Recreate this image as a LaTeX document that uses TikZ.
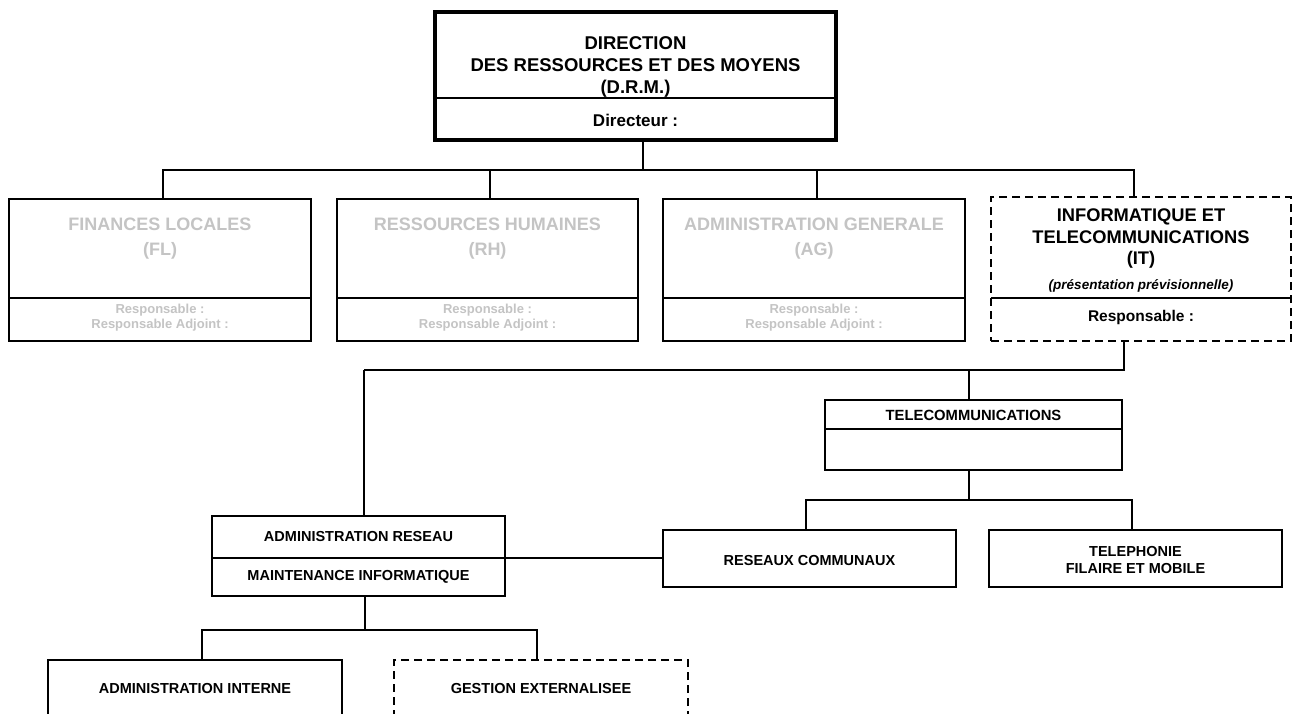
\documentclass[tikz,border=0pt]{standalone}
\usepackage{fontspec}
\setmainfont{Liberation Sans}
\definecolor{lightgr}{RGB}{196,196,196}
\begin{document}
\begin{tikzpicture}[x=1pt,y=-1pt,
  box/.style={draw, line width=2pt, rectangle, inner sep=0pt, outer sep=0pt, anchor=north west},
  thickbox/.style={box, line width=4pt},
  dashbox/.style={box, dash pattern=on 8pt off 5pt},
  link/.style={draw, line width=2pt},
  divider/.style={draw, line width=2pt},
  txt/.style={inner sep=0pt, align=center, font=\bfseries\fontsize{14.5}{17}\selectfont},
  bigtxt/.style={txt, font=\bfseries\fontsize{18.5}{22}\selectfont},
  graytxt/.style={txt, text=lightgr, font=\bfseries\fontsize{18}{25}\selectfont},
  graysmall/.style={txt, text=lightgr, font=\bfseries\fontsize{13}{15}\selectfont}
]
\clip (0,0) rectangle (1298,713);
\fill[white] (0,0) rectangle (1298,713);

% ---- top box
\node[thickbox, minimum width=401, minimum height=128] (drm) at (435,12) {};
\draw[line width=2pt] (drm.west |- 0,98) -- (drm.east |- 0,98);
\node[bigtxt] (drmt) at (635.5,67) {DIRECTION\\DES RESSOURCES ET DES MOYENS\\(D.R.M.)};
\node[txt, font=\bfseries\fontsize{17}{20}\selectfont] (drmd) at (635.5,120) {Directeur :};

% ---- second level
\node[box, minimum width=302, minimum height=142] (fl) at (9,199) {};
\draw[divider] (fl.west |- 0,298) -- (fl.east |- 0,298);
\node[graytxt] (flt) at (160,238.5) {FINANCES LOCALES\\(FL)};
\node[graysmall] (flr) at (160,317.5) {Responsable :\\Responsable Adjoint :};

\node[box, minimum width=301, minimum height=142] (rh) at (337,199) {};
\draw[divider] (rh.west |- 0,298) -- (rh.east |- 0,298);
\node[graytxt] (rht) at (487.5,238.5) {RESSOURCES HUMAINES\\(RH)};
\node[graysmall] (rhr) at (487.5,317.5) {Responsable :\\Responsable Adjoint :};

\node[box, minimum width=302, minimum height=142] (ag) at (663,199) {};
\draw[divider] (ag.west |- 0,298) -- (ag.east |- 0,298);
\node[graytxt] (agt) at (814,238.5) {ADMINISTRATION GENERALE\\(AG)};
\node[graysmall] (agr) at (814,317.5) {Responsable :\\Responsable Adjoint :};

\node[dashbox, minimum width=300, minimum height=144] (it) at (991,197) {};
\draw[divider] (it.west |- 0,298) -- (it.east |- 0,298);
\node[bigtxt, font=\bfseries\fontsize{18.3}{21.5}\selectfont] (itt) at (1141,239) {INFORMATIQUE ET\\TELECOMMUNICATIONS\\(IT)};
\node[txt, font=\bfseries\itshape\fontsize{13.5}{16}\selectfont] (itp) at (1141,286) {(présentation prévisionnelle)};
\node[txt, font=\bfseries\fontsize{15.5}{18}\selectfont] (itr) at (1141,317) {Responsable :};

% ---- third level
\node[box, minimum width=297, minimum height=70] (tc) at (825,400) {};
\draw[divider] (tc.west |- 0,429) -- (tc.east |- 0,429);
\node[txt, font=\bfseries\fontsize{14.8}{17}\selectfont] (tct) at (973.5,415) {TELECOMMUNICATIONS};

\node[box, minimum width=293, minimum height=80] (adm) at (212,516) {};
\draw[divider] (adm.west |- 0,558) -- (adm.east |- 0,558);
\node[txt] (adm1) at (358.5,536) {ADMINISTRATION RESEAU};
\node[txt] (adm2) at (358.5,577) {MAINTENANCE INFORMATIQUE};

\node[box, minimum width=293, minimum height=57] (res) at (663,530) {};
\node[txt] (rest) at (809.5,560) {RESEAUX COMMUNAUX};

\node[box, minimum width=293, minimum height=57] (tel) at (989,530) {};
\node[txt] (telt) at (1135.5,559.5) {TELEPHONIE\\FILAIRE ET MOBILE};

\node[box, minimum width=294, minimum height=90] (ai) at (48,660) {};
\node[txt] (ait) at (195,688) {ADMINISTRATION INTERNE};

\node[dashbox, minimum width=294, minimum height=90] (ge) at (394,660) {};
\node[txt] (get) at (541,688) {GESTION EXTERNALISEE};

% ---- connectors
\coordinate (b1) at (643,170);
\coordinate (b2) at (364,370);
\coordinate (b3) at (969,500);
\coordinate (b4) at (365,630);

\draw[link] (b1 |- drm.south) -- (b1);
\draw[link] ([xshift=3]fl.north) |- (b1);
\draw[link] ([xshift=2.5]rh.north) |- (b1);
\draw[link] ([xshift=3]ag.north) |- (b1);
\draw[link] ([xshift=-7]it.north) |- (b1);

\draw[link] ([xshift=-17]it.south) |- (b2);
\draw[link] (b2) -- (b2 |- adm.north);
\draw[link] ([xshift=-4.5]tc.north) |- (b2);

\draw[link] (b3 |- tc.south) -- (b3);
\draw[link] ([xshift=-3.5]res.north) |- (b3);
\draw[link] ([xshift=-3.5]tel.north) |- (b3);

\draw[link] (res.west |- 0,558) -- (adm.east |- 0,558);

\draw[link] (b4 |- adm.south) -- (b4);
\draw[link] ([xshift=7]ai.north) |- (b4);
\draw[link] ([xshift=-4]ge.north) |- (b4);
\end{tikzpicture}
\end{document}
